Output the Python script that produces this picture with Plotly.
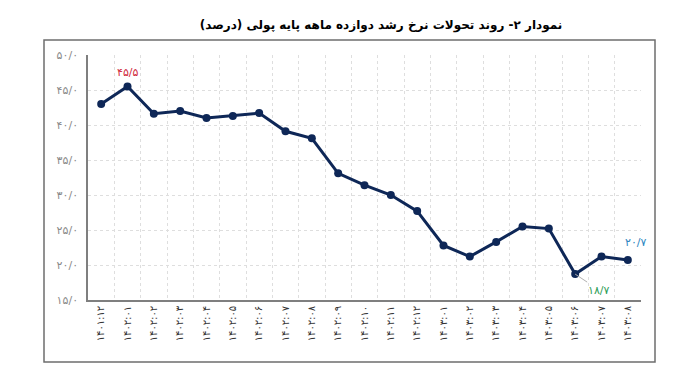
import plotly.graph_objects as go

categories = ["۱۴۰۱:۱۲", "۱۴۰۲:۰۱", "۱۴۰۲:۰۲", "۱۴۰۲:۰۳", "۱۴۰۲:۰۴", "۱۴۰۲:۰۵", "۱۴۰۲:۰۶",
              "۱۴۰۲:۰۷", "۱۴۰۲:۰۸", "۱۴۰۲:۰۹", "۱۴۰۲:۱۰", "۱۴۰۲:۱۱", "۱۴۰۲:۱۲",
              "۱۴۰۳:۰۱", "۱۴۰۳:۰۲", "۱۴۰۳:۰۳", "۱۴۰۳:۰۴", "۱۴۰۳:۰۵", "۱۴۰۳:۰۶",
              "۱۴۰۳:۰۷", "۱۴۰۳:۰۸"]
values = [43.0, 45.5, 41.6, 42.0, 41.0, 41.3, 41.7, 39.1, 38.1, 33.1, 31.4, 30.0,
          27.7, 22.8, 21.2, 23.3, 25.5, 25.2, 18.7, 21.2, 20.7]
y_tickvals = [15, 20, 25, 30, 35, 40, 45, 50]
y_ticktext = ["۱۵/۰", "۲۰/۰", "۲۵/۰", "۳۰/۰", "۳۵/۰", "۴۰/۰", "۴۵/۰", "۵۰/۰"]
title = "نمودار ۲- روند تحولات نرخ رشد دوازده ماهه پایه پولی (درصد)"

FONT = "DejaVu Sans"
W, H = 690, 384
L, R, T, B = 88, 641, 55, 300
pw, ph = R - L, B - T

def px(x):
    return (x - L) / pw

def py(y):
    return (B - y) / ph

fig = go.Figure()
fig.add_trace(go.Scatter(
    x=categories, y=values, mode="lines+markers",
    line=dict(color="#0e2757", width=3),
    marker=dict(color="#0e2757", size=8),
    hoverinfo="skip", showlegend=False,
))

fig.update_layout(
    width=W, height=H,
    margin=dict(l=L, r=W - R, t=T, b=H - B),
    paper_bgcolor="white", plot_bgcolor="white",
    title=dict(text="<b>" + title + "</b>", x=381 / W, xanchor="center",
               y=1 - 25 / H, yanchor="middle",
               font=dict(family=FONT, size=12, color="#000")),
    xaxis=dict(type="category", range=[-0.5, len(categories) - 0.5],
               tickson="boundaries", showgrid=True, gridcolor="#dedede",
               griddash="dot", gridwidth=1,
               showline=True, linecolor="#7f7f7f", linewidth=1.5,
               ticks="", tickangle=-90, automargin=False,
               tickfont=dict(family=FONT, size=10, color="#333")),
    yaxis=dict(range=[15, 50], tickvals=y_tickvals, ticktext=y_ticktext,
               showgrid=True, gridcolor="#dedede", griddash="dot", gridwidth=1,
               showline=True, linecolor="#7f7f7f", linewidth=1.5,
               ticks="", ticklabelstandoff=6, zeroline=False, automargin=False,
               tickfont=dict(family=FONT, size=11, color="#8a8a8a")),
)

# Outer frame
fig.add_shape(type="rect", xref="paper", yref="paper",
              x0=px(44), x1=px(655), y0=py(362), y1=py(40),
              line=dict(color="#6e6e6e", width=1.5), fillcolor="rgba(0,0,0,0)",
              layer="below")

# Annotations
fig.add_annotation(x=categories[1], y=values[1], text="۴۵/۵", showarrow=False,
                   yshift=14, font=dict(family=FONT, size=11, color="#d0283c"))
fig.add_annotation(x=categories[18], y=values[18], text="۱۸/۷", showarrow=True,
                   arrowhead=0, arrowwidth=1, arrowcolor="#b0b0b0",
                   ax=24, ay=16, xanchor="center", yanchor="middle",
                   font=dict(family=FONT, size=11, color="#2f9e58"))
fig.add_annotation(x=categories[20], y=values[20], text="۲۰/۷", showarrow=False,
                   xshift=8, yshift=18, font=dict(family=FONT, size=11, color="#2e86c1"))

fig.write_html("out.html", config={"displayModeBar": False},
               post_script="document.body.style.margin='0';")
